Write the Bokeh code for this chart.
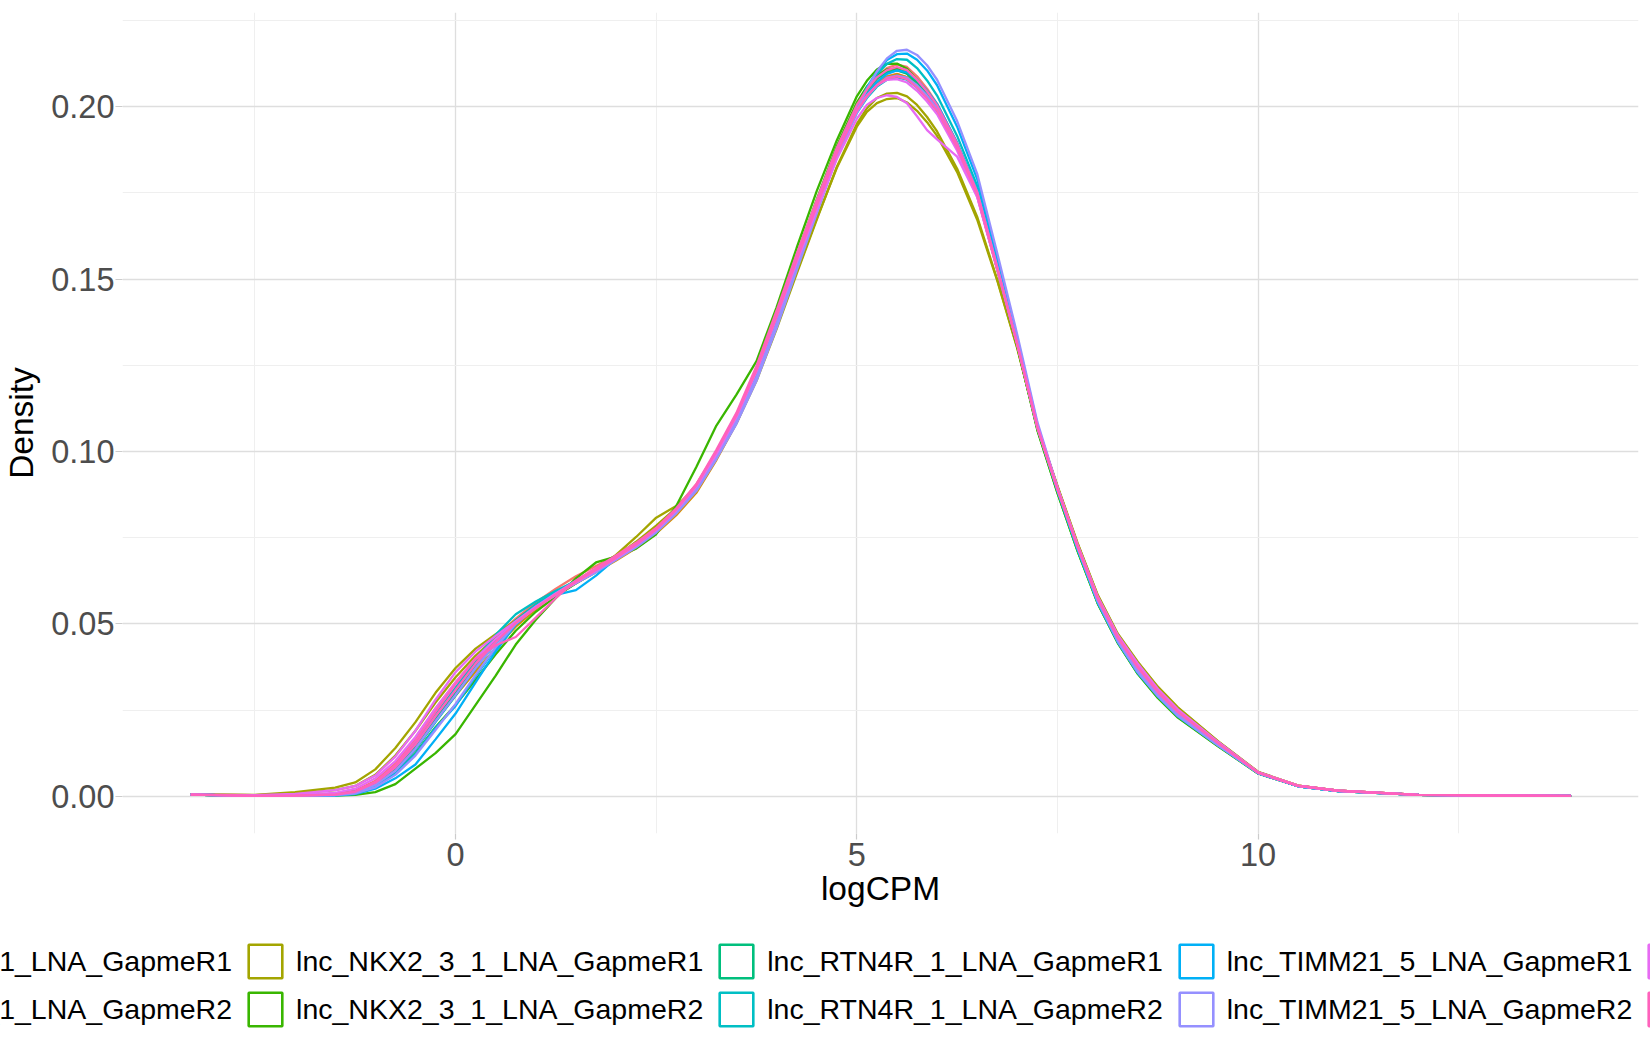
from bokeh.plotting import figure
from bokeh.models import (Legend, LegendItem, FixedTicker, Range1d,
                          ColumnDataSource, NumeralTickFormatter)
from bokeh.embed import file_html
from bokeh.resources import INLINE

# ---------------- data ----------------
LOGCPM = [
    -3.3, -2.5, -2.0, -1.5, -1.25, -1.0, -0.75, -0.5, -0.25, 0.0,
    0.25, 0.5, 0.75, 1.0, 1.25, 1.5, 1.75, 2.0, 2.25, 2.5,
    2.75, 3.0, 3.25, 3.5, 3.75, 4.0, 4.25, 4.5, 4.75, 5.0,
    5.125, 5.25, 5.375, 5.5, 5.625, 5.75, 5.875, 6.0, 6.25, 6.5,
    6.75, 7.0, 7.25, 7.5, 7.75, 8.0, 8.25, 8.5, 8.75, 9.0,
    9.5, 10.0, 10.5, 11.0, 12.0, 13.0, 13.9]

D_CASC9_G1_A = [
    .0005, .0001, .0002, .0006, .0016, .0045, .0095, .0168, .0255, .0330,
    .0400, .0462, .0515, .0562, .0602, .0638, .0668, .0698, .0735, .0778,
    .0836, .0905, .0998, .1100, .1228, .1380, .1545, .1705, .1862, .1995,
    .2048, .2088, .2112, .2122, .2115, .2088, .2052, .2008, .1895, .1752,
    .1535, .1312, .1075, .0898, .0730, .0580, .0468, .0385, .0312, .0252,
    .0158, .0070, .0031, .0016, .0004, .0002, .0001]
D_CASC9_G1_B = [
    .0005, .0001, .0002, .0005, .0013, .0038, .0082, .0148, .0232, .0312,
    .0388, .0452, .0506, .0548, .0590, .0626, .0660, .0690, .0726, .0770,
    .0828, .0898, .0992, .1098, .1230, .1388, .1555, .1712, .1866, .1993,
    .2035, .2068, .2088, .2095, .2086, .2060, .2028, .1990, .1882, .1745,
    .1532, .1312, .1072, .0893, .0725, .0574, .0460, .0372, .0302, .0243,
    .0153, .0068, .0030, .0016, .0004, .0002, .0001]
D_CASC9_G2_A = [
    .0005, .0001, .0002, .0004, .0011, .0033, .0075, .0138, .0218, .0292,
    .0362, .0430, .0492, .0542, .0582, .0618, .0650, .0684, .0720, .0762,
    .0815, .0880, .0975, .1082, .1212, .1372, .1540, .1702, .1860, .1994,
    .2042, .2080, .2102, .2110, .2100, .2072, .2038, .1998, .1888, .1750,
    .1535, .1315, .1075, .0896, .0728, .0576, .0462, .0375, .0305, .0246,
    .0155, .0069, .0031, .0016, .0004, .0002, .0001]
D_CASC9_G2_B = [
    .0005, .0001, .0002, .0005, .0014, .0041, .0088, .0155, .0238, .0312,
    .0382, .0446, .0500, .0545, .0584, .0618, .0652, .0690, .0728, .0772,
    .0826, .0892, .0988, .1092, .1222, .1378, .1545, .1706, .1862, .1990,
    .2032, .2065, .2086, .2094, .2085, .2058, .2026, .1988, .1880, .1742,
    .1528, .1308, .1068, .0890, .0723, .0572, .0458, .0371, .0300, .0242,
    .0153, .0068, .0030, .0016, .0004, .0002, .0001]
D_NKX2_G1_A = [
    .0006, .0004, .0012, .0025, .0040, .0078, .0140, .0215, .0300, .0372,
    .0428, .0470, .0510, .0548, .0585, .0620, .0658, .0700, .0752, .0808,
    .0842, .0895, .0980, .1082, .1205, .1355, .1515, .1672, .1825, .1950,
    .1995, .2025, .2038, .2040, .2030, .2005, .1970, .1928, .1820, .1680,
    .1498, .1300, .1072, .0900, .0735, .0585, .0472, .0390, .0318, .0258,
    .0160, .0071, .0031, .0016, .0004, .0002, .0001]
D_NKX2_G1_B = [
    .0005, .0003, .0008, .0018, .0030, .0062, .0118, .0190, .0272, .0345,
    .0408, .0460, .0506, .0548, .0586, .0620, .0655, .0694, .0738, .0785,
    .0836, .0898, .0985, .1088, .1210, .1362, .1520, .1675, .1822, .1942,
    .1985, .2010, .2022, .2025, .2012, .1988, .1955, .1915, .1810, .1672,
    .1495, .1298, .1070, .0898, .0733, .0583, .0470, .0388, .0316, .0256,
    .0159, .0070, .0031, .0016, .0004, .0002, .0001]
D_NKX2_G2_A = [
    .0005, .0001, .0001, .0002, .0004, .0012, .0035, .0080, .0125, .0180,
    .0265, .0350, .0440, .0512, .0575, .0632, .0678, .0695, .0718, .0760,
    .0842, .0955, .1075, .1165, .1262, .1418, .1590, .1755, .1902, .2030,
    .2075, .2108, .2124, .2125, .2110, .2078, .2040, .1998, .1890, .1750,
    .1530, .1305, .1062, .0880, .0712, .0560, .0445, .0355, .0285, .0228,
    .0145, .0066, .0029, .0015, .0004, .0002, .0001]
D_NKX2_G2_B = [
    .0005, .0001, .0002, .0004, .0010, .0030, .0068, .0125, .0200, .0265,
    .0338, .0412, .0480, .0535, .0580, .0618, .0652, .0688, .0726, .0768,
    .0826, .0898, .0998, .1105, .1238, .1398, .1568, .1730, .1885, .2012,
    .2058, .2090, .2108, .2110, .2096, .2066, .2030, .1990, .1882, .1745,
    .1528, .1305, .1062, .0880, .0712, .0560, .0446, .0356, .0287, .0230,
    .0146, .0066, .0029, .0015, .0004, .0002, .0001]
D_RTN4R_G1_A = [
    .0005, .0001, .0002, .0005, .0013, .0037, .0080, .0145, .0225, .0300,
    .0378, .0450, .0510, .0556, .0592, .0624, .0656, .0690, .0728, .0770,
    .0828, .0898, .0995, .1102, .1235, .1392, .1560, .1720, .1875, .2002,
    .2048, .2082, .2100, .2105, .2096, .2070, .2036, .1998, .1888, .1750,
    .1535, .1312, .1068, .0885, .0715, .0563, .0448, .0358, .0290, .0232,
    .0148, .0067, .0029, .0015, .0004, .0002, .0001]
D_RTN4R_G1_B = [
    .0005, .0001, .0002, .0004, .0012, .0034, .0076, .0140, .0220, .0295,
    .0372, .0444, .0504, .0550, .0588, .0622, .0655, .0690, .0728, .0772,
    .0830, .0900, .0996, .1100, .1228, .1382, .1548, .1706, .1860, .1985,
    .2030, .2062, .2082, .2090, .2082, .2058, .2026, .1990, .1884, .1748,
    .1534, .1312, .1070, .0888, .0718, .0566, .0450, .0360, .0292, .0234,
    .0149, .0067, .0029, .0015, .0004, .0002, .0001]
D_RTN4R_G2_A = [
    .0005, .0001, .0002, .0004, .0011, .0032, .0072, .0135, .0215, .0292,
    .0372, .0446, .0508, .0555, .0592, .0622, .0654, .0690, .0730, .0772,
    .0828, .0896, .0990, .1094, .1222, .1378, .1545, .1708, .1866, .1998,
    .2052, .2094, .2124, .2138, .2136, .2112, .2076, .2032, .1915, .1770,
    .1548, .1318, .1072, .0888, .0718, .0565, .0450, .0360, .0292, .0234,
    .0149, .0067, .0029, .0015, .0004, .0002, .0001]
D_RTN4R_G2_B = [
    .0005, .0001, .0002, .0005, .0014, .0040, .0086, .0152, .0235, .0315,
    .0395, .0468, .0528, .0565, .0596, .0624, .0655, .0688, .0725, .0768,
    .0825, .0894, .0990, .1095, .1225, .1380, .1546, .1705, .1858, .1982,
    .2025, .2058, .2078, .2085, .2078, .2056, .2026, .1990, .1885, .1750,
    .1536, .1314, .1070, .0887, .0718, .0566, .0451, .0361, .0292, .0234,
    .0149, .0067, .0029, .0015, .0004, .0002, .0001]
D_TIMM21_G1_A = [
    .0005, .0001, .0001, .0002, .0006, .0022, .0052, .0092, .0165, .0240,
    .0330, .0420, .0498, .0550, .0584, .0598, .0640, .0690, .0730, .0772,
    .0826, .0892, .0985, .1088, .1215, .1370, .1538, .1702, .1862, .1998,
    .2055, .2102, .2135, .2152, .2154, .2136, .2105, .2062, .1942, .1790,
    .1562, .1328, .1078, .0890, .0718, .0563, .0448, .0358, .0290, .0232,
    .0148, .0067, .0029, .0015, .0004, .0002, .0001]
D_TIMM21_G1_B = [
    .0005, .0001, .0001, .0003, .0009, .0028, .0065, .0122, .0198, .0262,
    .0348, .0430, .0500, .0550, .0590, .0620, .0652, .0688, .0727, .0770,
    .0827, .0895, .0990, .1094, .1222, .1378, .1545, .1706, .1862, .1990,
    .2036, .2072, .2095, .2105, .2100, .2078, .2046, .2008, .1895, .1756,
    .1540, .1316, .1072, .0888, .0718, .0565, .0450, .0360, .0291, .0233,
    .0148, .0067, .0029, .0015, .0004, .0002, .0001]
D_TIMM21_G2_A = [
    .0005, .0001, .0001, .0003, .0008, .0026, .0062, .0118, .0192, .0268,
    .0352, .0432, .0500, .0548, .0585, .0618, .0650, .0686, .0722, .0765,
    .0820, .0885, .0978, .1080, .1205, .1358, .1525, .1690, .1852, .1990,
    .2050, .2102, .2140, .2162, .2165, .2150, .2120, .2078, .1958, .1805,
    .1575, .1338, .1085, .0895, .0722, .0566, .0450, .0360, .0291, .0233,
    .0148, .0067, .0029, .0015, .0004, .0002, .0001]
D_TIMM21_G2_B = [
    .0005, .0001, .0002, .0004, .0011, .0033, .0074, .0138, .0218, .0294,
    .0372, .0444, .0504, .0550, .0588, .0620, .0654, .0688, .0726, .0768,
    .0824, .0890, .0984, .1088, .1215, .1370, .1536, .1698, .1855, .1982,
    .2028, .2062, .2084, .2090, .2084, .2062, .2032, .1995, .1890, .1752,
    .1536, .1314, .1072, .0890, .0722, .0570, .0455, .0367, .0297, .0239,
    .0151, .0068, .0030, .0016, .0004, .0002, .0001]
D_NC_G1_A = [
    .0005, .0003, .0007, .0018, .0030, .0060, .0115, .0190, .0280, .0360,
    .0420, .0465, .0508, .0550, .0588, .0625, .0660, .0695, .0732, .0774,
    .0830, .0898, .0992, .1100, .1232, .1388, .1548, .1700, .1848, .1965,
    .2005, .2025, .2033, .2028, .2010, .1972, .1932, .1905, .1855, .1738,
    .1530, .1312, .1075, .0896, .0730, .0580, .0468, .0385, .0312, .0252,
    .0158, .0070, .0031, .0016, .0004, .0002, .0001]
D_NC_G1_B = [
    .0005, .0002, .0004, .0010, .0022, .0052, .0102, .0172, .0255, .0330,
    .0400, .0456, .0504, .0546, .0584, .0620, .0655, .0690, .0728, .0772,
    .0830, .0900, .0996, .1102, .1235, .1392, .1558, .1716, .1868, .1990,
    .2032, .2062, .2078, .2080, .2070, .2046, .2015, .1978, .1872, .1738,
    .1526, .1308, .1070, .0893, .0728, .0578, .0465, .0380, .0308, .0248,
    .0156, .0069, .0030, .0016, .0004, .0002, .0001]
D_NC_G2_A = [
    .0005, .0001, .0002, .0005, .0015, .0042, .0090, .0160, .0245, .0325,
    .0398, .0438, .0462, .0518, .0575, .0625, .0662, .0698, .0735, .0778,
    .0835, .0905, .1005, .1112, .1248, .1408, .1572, .1728, .1880, .2005,
    .2050, .2085, .2106, .2115, .2106, .2078, .2044, .2004, .1892, .1752,
    .1534, .1310, .1068, .0890, .0726, .0576, .0462, .0376, .0305, .0246,
    .0155, .0069, .0030, .0016, .0004, .0002, .0001]
D_NC_G2_B = [
    .0005, .0001, .0002, .0005, .0013, .0039, .0084, .0150, .0232, .0308,
    .0384, .0448, .0502, .0546, .0586, .0622, .0656, .0692, .0730, .0774,
    .0832, .0902, .1000, .1105, .1236, .1392, .1556, .1712, .1864, .1988,
    .2030, .2062, .2082, .2088, .2080, .2056, .2024, .1988, .1880, .1744,
    .1530, .1310, .1070, .0890, .0724, .0574, .0460, .0373, .0302, .0244,
    .0154, .0068, .0030, .0016, .0004, .0002, .0001]

GROUPS = [
    "lnc_CASC9_1_LNA_GapmeR1", "lnc_CASC9_1_LNA_GapmeR2",
    "lnc_NKX2_3_1_LNA_GapmeR1", "lnc_NKX2_3_1_LNA_GapmeR2",
    "lnc_RTN4R_1_LNA_GapmeR1", "lnc_RTN4R_1_LNA_GapmeR2",
    "lnc_TIMM21_5_LNA_GapmeR1", "lnc_TIMM21_5_LNA_GapmeR2",
    "NC_LNA_GapmeR1", "NC_LNA_GapmeR2"]
COLORS = ["#F8766D", "#D89000", "#A3A500", "#39B600", "#00BF7D",
          "#00BFC4", "#00B0F6", "#9590FF", "#E76BF3", "#FF62BC"]

SAMPLES = [
    ("CASC9_G1_A", 0, D_CASC9_G1_A), ("CASC9_G1_B", 0, D_CASC9_G1_B),
    ("CASC9_G2_A", 1, D_CASC9_G2_A), ("CASC9_G2_B", 1, D_CASC9_G2_B),
    ("NKX2_G1_A", 2, D_NKX2_G1_A), ("NKX2_G1_B", 2, D_NKX2_G1_B),
    ("NKX2_G2_A", 3, D_NKX2_G2_A), ("NKX2_G2_B", 3, D_NKX2_G2_B),
    ("RTN4R_G1_A", 4, D_RTN4R_G1_A), ("RTN4R_G1_B", 4, D_RTN4R_G1_B),
    ("RTN4R_G2_A", 5, D_RTN4R_G2_A), ("RTN4R_G2_B", 5, D_RTN4R_G2_B),
    ("TIMM21_G1_A", 6, D_TIMM21_G1_A), ("TIMM21_G1_B", 6, D_TIMM21_G1_B),
    ("TIMM21_G2_A", 7, D_TIMM21_G2_A), ("TIMM21_G2_B", 7, D_TIMM21_G2_B),
    ("NC_G1_A", 8, D_NC_G1_A), ("NC_G1_B", 8, D_NC_G1_B),
    ("NC_G2_A", 9, D_NC_G2_A), ("NC_G2_B", 9, D_NC_G2_B)]

X_TICKS = [0, 5, 10]
X_MINOR = [-2.5, 2.5, 7.5, 12.5]
Y_TICKS = [0.0, 0.05, 0.10, 0.15, 0.20]
Y_MINOR = [0.025, 0.075, 0.125, 0.175, 0.225]

for name, g, ys in SAMPLES:
    if len(ys) != len(LOGCPM):
        raise ValueError(f"{name}: {len(ys)} values, expected {len(LOGCPM)}")

# ---------------- main figure ----------------
FONT = "Liberation Sans"
W = 1650
H_MAIN = 930
H_LEG = 120

p = figure(width=W, height=H_MAIN, output_backend="svg", toolbar_location=None,
           x_range=Range1d(-4.15, 14.74), y_range=Range1d(-0.0108, 0.2273),
           min_border_left=121, min_border_right=12, min_border_top=12,
           min_border_bottom=H_MAIN - 833)
p.outline_line_color = None
p.background_fill_color = "white"
p.border_fill_color = "white"

for grid in (p.xgrid, p.ygrid):
    grid.grid_line_color = "#DEDEDE"
    grid.grid_line_width = 1.3
    grid.minor_grid_line_color = "#EFEFEF"
    grid.minor_grid_line_width = 1.0

p.xaxis.ticker = FixedTicker(ticks=X_TICKS, minor_ticks=X_MINOR)
p.yaxis.ticker = FixedTicker(ticks=Y_TICKS, minor_ticks=Y_MINOR)
p.xgrid.ticker = p.xaxis.ticker
p.ygrid.ticker = p.yaxis.ticker
p.yaxis.formatter = NumeralTickFormatter(format="0.00")

for ax in (p.xaxis, p.yaxis):
    ax.axis_line_color = None
    ax.major_tick_line_color = "#CCCCCC"
    ax.major_tick_line_width = 1.2
    ax.major_tick_in = 0
    ax.minor_tick_line_color = None
    ax.major_label_text_font = FONT
    ax.major_label_text_font_size = "32.5px"
    ax.major_label_text_color = "#4D4D4D"
    ax.axis_label_text_font = FONT
    ax.axis_label_text_font_size = "33.5px"
    ax.axis_label_text_font_style = "normal"
    ax.axis_label_text_color = "black"

p.xaxis.major_tick_out = 6
p.yaxis.major_tick_out = 7
p.xaxis.major_label_standoff = 3
p.yaxis.major_label_standoff = 1
p.xaxis.axis_label_standoff = 1
p.yaxis.axis_label_standoff = 8
p.xaxis.axis_label = "logCPM"
p.yaxis.axis_label = "Density"

for name, g, ys in SAMPLES:
    src = ColumnDataSource(dict(x=LOGCPM, y=ys))
    p.line("x", "y", source=src, line_color=COLORS[g], line_width=2.3)

# ---------------- legend strip (ggplot-style bottom legend) ----------------
# a separate root (not in a column), so its frame spans the full page width
q = figure(width=W, height=H_LEG, output_backend="svg", toolbar_location=None,
           x_range=Range1d(0, 1), y_range=Range1d(0, 1),
           min_border_left=0, min_border_right=0, min_border_top=0,
           min_border_bottom=0, x_axis_type=None, y_axis_type=None)
q.outline_line_color = None
q.background_fill_color = "white"
q.border_fill_color = "white"
q.grid.visible = False

# outlined boxes as keys; one NaN row so the legend has a glyph to draw
NAN = float("nan")
keys = []
for g, col in enumerate(COLORS):
    ksrc = ColumnDataSource(dict(l=[NAN], r=[NAN], t=[NAN], b=[NAN]))
    keys.append(q.quad(left="l", right="r", top="t", bottom="b", source=ksrc,
                       fill_color=None, line_color=col, line_width=2.6))


def make_legend(group_ids, vx, vy):
    return Legend(
        items=[LegendItem(label=GROUPS[g], renderers=[keys[g]]) for g in group_ids],
        orientation="horizontal", location=(vx, vy), margin=0, padding=0,
        spacing=12, glyph_width=42, glyph_height=42, label_standoff=10,
        label_text_font=FONT, label_text_font_size="28.5px",
        label_text_color="black", border_line_color=None,
        background_fill_alpha=0)


leg1 = make_legend([0, 2, 4, 6, 8], -216, 68)
leg2 = make_legend([1, 3, 5, 7, 9], -216, 20)
q.add_layout(leg1, "center")
q.add_layout(leg2, "center")

open("out.html", "w").write(file_html([p, q], INLINE))
